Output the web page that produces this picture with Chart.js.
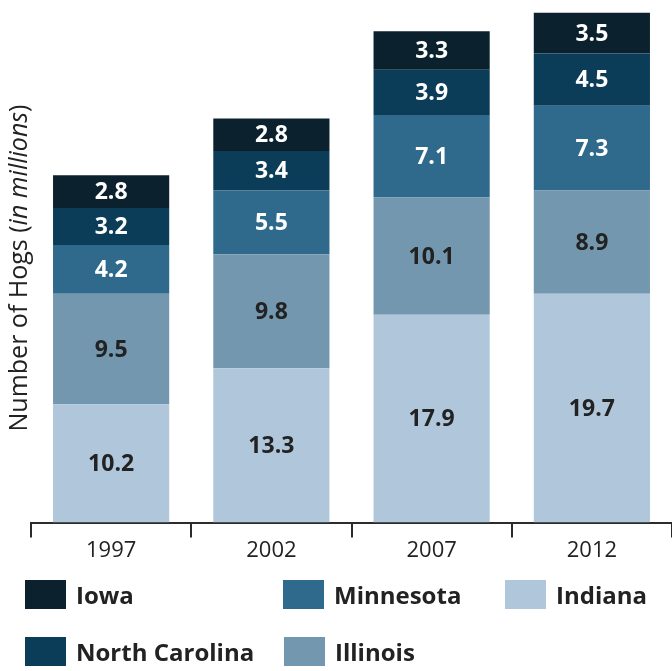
<!DOCTYPE html>
<html lang="en">
<head>
    <meta charset="UTF-8">
    <title>Number of Hogs</title>
    <script src="https://cdn.jsdelivr.net/npm/chart.js"></script>
    <style>
        body { margin: 0; background: #fff; font-family: "Open Sans", sans-serif; }
        #wrap { position: relative; width: 672px; height: 671px; }
        #box { position: absolute; left: 0; top: 0; width: 672px; height: 564px; }
        #legend { position: absolute; left: 0; top: 0; width: 672px; height: 671px; pointer-events: none; }
        .item { position: absolute; display: flex; align-items: center; font-weight: bold; font-size: 24px; line-height: 29px; color: #222; white-space: nowrap; }
        .sw { width: 41px; height: 29px; margin-right: 10px; }
    </style>
</head>
<body>
<div id="wrap">
    <div id="box"><canvas id="hogChart"></canvas></div>
    <div id="legend"></div>
</div>
<script>
    // years on the x axis
    const years = ['1997', '2002', '2007', '2012'];

    // millions of hogs per state, bottom of stack first
    const indiana = [10.2, 13.3, 17.9, 19.7];
    const illinois = [9.5, 9.8, 10.1, 8.9];
    const minnesota = [4.2, 5.5, 7.1, 7.3];
    const northCarolina = [3.2, 3.4, 3.9, 4.5];
    const iowa = [2.8, 2.8, 3.3, 3.5];

    const states = ['Indiana', 'Illinois', 'Minnesota', 'North Carolina', 'Iowa'];
    const colors = ['#b0c7db', '#7397ae', '#2f6a8c', '#0b3d59', '#0b222e'];
    const labelColors = ['#222', '#222', '#fff', '#fff', '#fff'];
    const series = [indiana, illinois, minnesota, northCarolina, iowa];

    // draws the value in the middle of every segment
    const segmentLabels = {
        id: 'segmentLabels',
        afterDatasetsDraw(chart) {
            const ctx = chart.ctx;
            ctx.save();
            ctx.font = 'bold 23px "Open Sans"';
            ctx.textAlign = 'center';
            ctx.textBaseline = 'middle';
            chart.data.datasets.forEach((ds, i) => {
                chart.getDatasetMeta(i).data.forEach((bar, j) => {
                    const mid = (bar.y + bar.base) / 2;
                    ctx.fillStyle = labelColors[i];
                    ctx.fillText(ds.data[j].toFixed(1), bar.x, mid + 1);
                });
            });
            ctx.restore();
        }
    };

    // y axis title with an italic part
    const yTitle = {
        id: 'yTitle',
        afterDraw(chart) {
            const ctx = chart.ctx;
            const a = 'Number of Hogs (';
            const b = 'in millions';
            const c = ')';
            ctx.save();
            ctx.fillStyle = '#222';
            ctx.textBaseline = 'middle';
            ctx.translate(20, 268);
            ctx.rotate(-Math.PI / 2);
            const reg = '25px "Open Sans"';
            const ita = 'italic 25px "Open Sans"';
            ctx.font = reg;
            const wa = ctx.measureText(a).width;
            const wc = ctx.measureText(c).width;
            ctx.font = ita;
            const wb = ctx.measureText(b).width;
            let x = -(wa + wb + wc) / 2;
            ctx.textAlign = 'left';
            ctx.font = reg;
            ctx.fillText(a, x, 0);
            x += wa;
            ctx.font = ita;
            ctx.fillText(b, x, 0);
            x += wb;
            ctx.font = reg;
            ctx.fillText(c, x, 0);
            ctx.restore();
        }
    };

    new Chart(document.getElementById('hogChart'), {
        type: 'bar',
        data: {
            labels: years,
            datasets: states.map((name, i) => ({
                label: name,
                data: series[i],
                backgroundColor: colors[i],
                borderWidth: 0,
                barPercentage: 0.725,
                categoryPercentage: 1
            }))
        },
        options: {
            responsive: true,
            maintainAspectRatio: false,
            animation: false,
            layout: { padding: { left: 31, right: 0, top: 0, bottom: 0 } },
            plugins: {
                legend: { display: false },
                tooltip: { enabled: false }
            },
            scales: {
                x: {
                    stacked: true,
                    offset: true,
                    border: { display: true, color: '#2b2b2b', width: 2 },
                    grid: {
                        display: true,
                        offset: true,
                        drawOnChartArea: false,
                        tickLength: 15,
                        color: '#2b2b2b',
                        lineWidth: 2
                    },
                    ticks: {
                        padding: 0,
                        color: '#222',
                        font: { family: 'Open Sans', size: 22 }
                    }
                },
                y: {
                    stacked: true,
                    display: false,
                    min: 0,
                    max: 45
                }
            }
        },
        plugins: [segmentLabels, yTitle]
    });

    // legend laid out in two rows like the original
    const legendSpots = {
        'Iowa': [25, 580],
        'Minnesota': [283, 580],
        'Indiana': [505, 580],
        'North Carolina': [25, 637],
        'Illinois': [284, 637]
    };
    const legend = document.getElementById('legend');
    states.forEach((name, i) => {
        const spot = legendSpots[name];
        const el = document.createElement('div');
        el.className = 'item';
        el.style.left = spot[0] + 'px';
        el.style.top = spot[1] + 'px';
        el.innerHTML = '<div class="sw" style="background:' + colors[i] + '"></div>' + name;
        legend.appendChild(el);
    });
</script>
</body>
</html>
